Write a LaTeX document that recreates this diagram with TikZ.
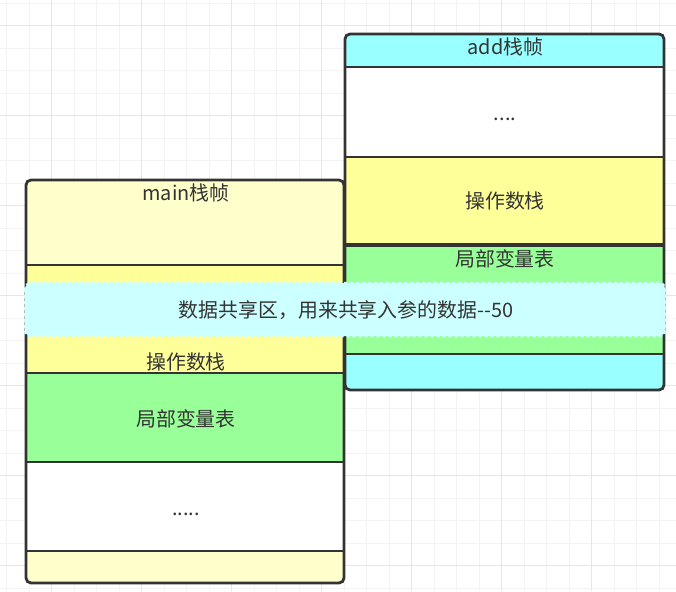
\documentclass[tikz,border=0pt]{standalone}
\usepackage{fontspec}
\newfontfamily\cjk{Noto Sans CJK SC}
\definecolor{gridminor}{HTML}{F3F3F3}
\definecolor{gridmajor}{HTML}{E6E6E6}
\definecolor{darkline}{HTML}{333333}
\definecolor{paleyellow}{HTML}{FFFFCC}
\definecolor{opyellow}{HTML}{FFFF99}
\definecolor{localgreen}{HTML}{99FF99}
\definecolor{addcyan}{HTML}{99FFFF}
\definecolor{sharecyan}{HTML}{CCFFFF}
\begin{document}
\begin{tikzpicture}[x=1pt,y=-1pt,
  lbl/.style={text=darkline,font=\cjk\fontsize{19.9}{20}\selectfont,inner sep=0pt},
  sep/.style={draw=darkline,line width=2.5pt},
  frame/.style={draw=darkline,line width=2.8pt,rounded corners=5pt}]
\useasboundingbox (0,0) rectangle (676,591);
%grid
\foreach \i in {0,...,29}{
  \draw[gridminor,line width=1pt](6.7+22.5*\i,0)--++(0,591);
  \draw[gridminor,line width=1pt](0,3.3+22.5*\i)--++(676,0);
}
\foreach \i in {0,...,7}{
  \draw[gridmajor,line width=1pt](51.7+90*\i,0)--++(0,591);
  \draw[gridmajor,line width=1pt](0,25.7+90*\i)--++(676,0);
}
%main frame
\fill[paleyellow,rounded corners=5pt](26,180) rectangle (344,583);
\fill[opyellow](26,265) rectangle (344,373);
\fill[localgreen](26,373) rectangle (344,462);
\fill[white](26,462) rectangle (344,551);
\draw[sep](26,265)--(344,265);
\draw[sep](26,373)--(344,373);
\draw[sep](26,462)--(344,462);
\draw[sep](26,551)--(344,551);
\draw[frame](26,180) rectangle (344,583);
\node[lbl](mainhead) at (186,193){main栈帧};
\node[lbl](mainops) at (186,362){操作数栈};
\node[lbl](mainlocals) at (186,419){局部变量表};
\node[lbl,anchor=base](maindots) at (186,515){.....};
%add frame
\fill[addcyan,rounded corners=5pt](345,34) rectangle (664,390);
\fill[white](345,67) rectangle (664,157);
\fill[opyellow](345,157) rectangle (664,245);
\fill[localgreen](345,245) rectangle (664,354);
\draw[sep](345,67)--(664,67);
\draw[sep](345,157)--(664,157);
\draw[sep,line width=4pt](345,245)--(664,245);
\draw[sep](345,354)--(664,354);
\draw[frame](345,34) rectangle (664,390);
\node[lbl](addhead) at (505.5,47){add栈帧};
\node[lbl,anchor=base](adddots) at (505,120){....};
\node[lbl](addops) at (505,201){操作数栈};
\node[lbl](addlocals) at (505,259){局部变量表};
%shared area
\draw[sharecyan,fill=sharecyan,dashed,line width=2.5pt,rounded corners=6pt](25,283) rectangle (665,336);
\node[lbl](share) at (346,310){数据共享区，用来共享入参的数据--50};
\end{tikzpicture}
\end{document}
